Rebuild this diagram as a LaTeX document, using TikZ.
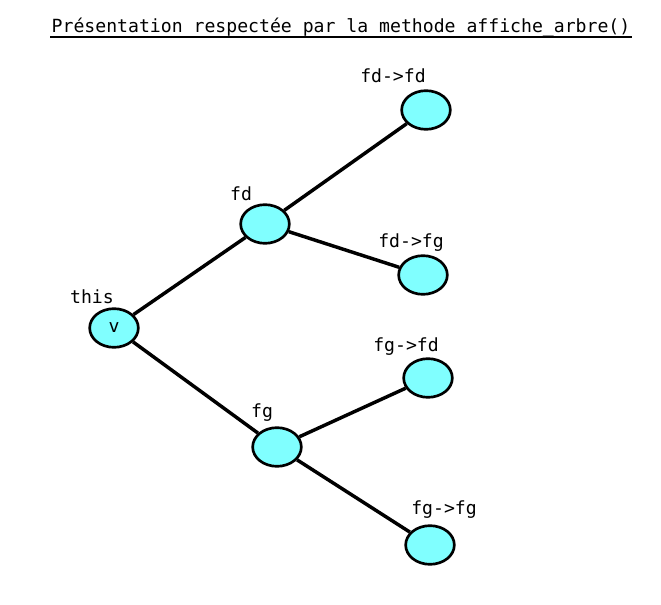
\documentclass[tikz,border=0pt]{standalone}
\usepackage{fontspec}
\setmonofont{DejaVu Sans Mono}
\usetikzlibrary{shapes.geometric}
\definecolor{noeudcyan}{RGB}{128,255,255}
\tikzset{
  noeud/.style={ellipse,draw=black,fill=noeudcyan,line width=2pt,minimum width=36.5pt,minimum height=29pt,inner sep=0pt,font=\ttfamily\fontsize{13.6}{16}\selectfont},
  etiquette/.style={inner sep=0.75pt,font=\ttfamily\fontsize{13.6}{16}\selectfont},
  branche/.style={line width=2.6pt}
}
\begin{document}
\begin{tikzpicture}[x=0.75pt,y=0.75pt,yscale=-1,xscale=1]
\useasboundingbox (0,0) rectangle (661,605);

% Title
\node (titre) [etiquette,anchor=base] at (341,33) {Présentation respectée par la methode affiche\_arbre()};
\draw [line width=1.2pt] ([yshift=3pt]titre.base west) -- ([yshift=3pt]titre.base east);

% Nodes
\node (this) [noeud] at (114,328) {v};
\node (fd) [noeud] at (265,224) {};
\node (fg) [noeud] at (277,447) {};
\node (fdfd) [noeud] at (426,110) {};
\node (fdfg) [noeud] at (423,275) {};
\node (fgfd) [noeud] at (428,378) {};
\node (fgfg) [noeud] at (430,545) {};

% Text Node
\node (lthis) [etiquette] at (92,297) {this};
\node (lfd) [etiquette] at (241,194) {fd};
\node (lfg) [etiquette] at (262,413) {fg};
\node (lfdfd) [etiquette] at (393,76) {fd->fd};
\node (lfdfg) [etiquette] at (411,243) {fd->fg};
\node (lfgfd) [etiquette] at (406,347) {fg->fd};
\node (lfgfg) [etiquette] at (444,510) {fg->fg};

% Straight Lines
\draw [branche] (this) -- (fd);
\draw [branche] (this) -- (fg);
\draw [branche] (fd) -- (fdfd);
\draw [branche] (fd) -- (fdfg);
\draw [branche] (fg) -- (fgfd);
\draw [branche] (fg) -- (fgfg);

\end{tikzpicture}
\end{document}
